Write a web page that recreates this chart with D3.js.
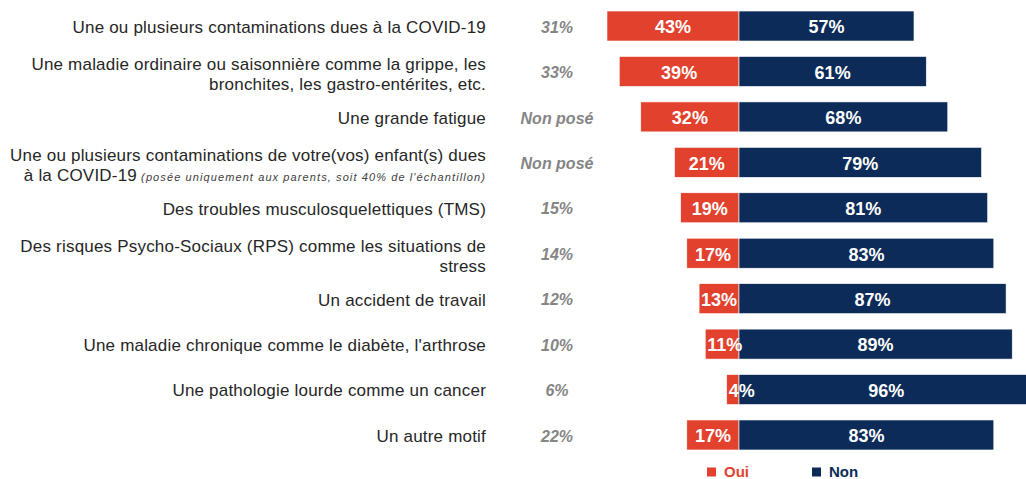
<!DOCTYPE html>
<html>
<head>
<meta charset="utf-8">
<script src="https://cdn.jsdelivr.net/npm/d3@7"></script>
<style>
  body { margin: 0; background: #fff; }
  svg { display: block; font-family: "Liberation Sans", Arial, sans-serif; }
  .row-label { fill: #262626; font-size: 17px; letter-spacing: 0.2px; }
  .row-note { fill: #404040; font-size: 11px; font-style: italic; letter-spacing: 1.1px; }
  .base-label { fill: #858585; font-size: 16px; font-style: italic; font-weight: bold; }
  .bar-label { fill: #fff; font-size: 18px; font-weight: bold; }
  .legend-label { font-size: 15px; font-weight: bold; }
</style>
</head>
<body>
<svg id="chart"></svg>
<script>
// Motifs (row labels, one entry per line)
const labelLines = [
  ['Une ou plusieurs  contaminations dues à la COVID-19'],
  ['Une maladie ordinaire ou saisonnière comme la grippe, les', 'bronchites, les gastro-entérites, etc.'],
  ['Une grande fatigue'],
  ['Une ou plusieurs  contaminations de votre(vos) enfant(s) dues', 'à la COVID-19'],
  ['Des troubles musculosquelettiques  (TMS)'],
  ['Des risques Psycho-Sociaux (RPS) comme les situations de', 'stress'],
  ['Un accident de travail'],
  ['Une maladie chronique comme le diabète, l\'arthrose'],
  ['Une pathologie lourde comme un cancer'],
  ['Un autre motif']
];
// small italic note appended to the last line of a label
const labelNotes = ['', '', '', '(posée uniquement aux parents, soit 40% de l\'échantillon)', '', '', '', '', '', ''];
const baseShares = ['31%', '33%', 'Non posé', 'Non posé', '15%', '14%', '12%', '10%', '6%', '22%'];
const ouiValues = [43, 39, 32, 21, 19, 17, 13, 11, 4, 17];
const nonValues = [57, 61, 68, 79, 81, 83, 87, 89, 96, 83];
const seriesKeys = ['Oui', 'Non'];
const seriesColors = ['#e2412e', '#0c2b58'];

class DivergingBars {

  constructor(_config) {
    this.config = {
      parentElement: _config.parentElement,
      containerWidth: _config.containerWidth || 1026,
      containerHeight: _config.containerHeight || 479,
      zeroX: _config.zeroX || 739,
      pxPerPoint: _config.pxPerPoint || 3.07,
      labelRight: _config.labelRight || 486,
      baseX: _config.baseX || 557,
      rowTop: _config.rowTop || 3.3,
      rowBottom: _config.rowBottom || 457.7,
      lineHeight: _config.lineHeight || 20,
      legendX: _config.legendX || [707, 812],
      legendY: _config.legendY || 472
    };
    this.data = labelLines.map((lines, i) => ({
      id: i,
      lines: lines,
      note: labelNotes[i],
      base: baseShares[i],
      Oui: ouiValues[i],
      Non: nonValues[i]
    }));
    this.initVis();
  }

  initVis() {
    let vis = this;

    vis.svg = d3.select(vis.config.parentElement)
        .attr('width', vis.config.containerWidth)
        .attr('height', vis.config.containerHeight);

    vis.xScale = d3.scaleLinear()
        .domain([-100, 100])
        .range([vis.config.zeroX - 100 * vis.config.pxPerPoint, vis.config.zeroX + 100 * vis.config.pxPerPoint]);

    vis.yScale = d3.scaleBand()
        .domain(vis.data.map(d => d.id))
        .range([vis.config.rowTop, vis.config.rowBottom])
        .paddingInner(0.34)
        .paddingOuter(0.17);

    vis.colorScale = d3.scaleOrdinal()
        .domain(seriesKeys)
        .range(seriesColors);

    vis.renderVis();
  }

  renderVis() {
    let vis = this;
    const cy = d => vis.yScale(d.id) + vis.yScale.bandwidth() / 2;

    // left hand labels, right aligned
    const labels = vis.svg.selectAll('.row-label')
        .data(vis.data)
        .join('text')
        .attr('class', 'row-label')
        .attr('text-anchor', 'end')
        .attr('y', d => cy(d) + 1 + (d.lines.length > 1 ? 2 : 0) - (d.lines.length - 1) * vis.config.lineHeight / 2)
        .attr('dy', '0.35em');

    labels.selectAll('tspan.line')
        .data(d => d.lines.map((l, i) => ({text: l, i: i, last: i === d.lines.length - 1, note: d.note})))
        .join('tspan')
        .attr('class', 'line')
        .attr('x', vis.config.labelRight)
        .attr('dy', d => d.i === 0 ? null : vis.config.lineHeight)
        .text(d => d.text)
        .each(function(d) {
          // the note continues the same text chunk, so the whole line ends at labelRight
          if (d.last && d.note) {
            d3.select(this.parentNode).append('tspan')
                .attr('class', 'row-note')
                .text(' ' + d.note);
          }
        });

    // base column
    vis.svg.selectAll('.base-label')
        .data(vis.data)
        .join('text')
        .attr('class', 'base-label')
        .attr('text-anchor', 'middle')
        .attr('x', vis.config.baseX)
        .attr('y', d => cy(d) + 1)
        .attr('dy', '0.35em')
        .text(d => d.base);

    // bars
    vis.segments = vis.data.map(d => ([
      {key: 'Oui', id: d.id, x0: -d.Oui, x1: 0, value: d.Oui},
      {key: 'Non', id: d.id, x0: 0, x1: d.Non, value: d.Non}
    ])).flat();

    vis.svg.selectAll('.bar')
        .data(vis.segments)
        .join('rect')
        .attr('class', 'bar')
        .attr('x', d => vis.xScale(d.x0))
        .attr('y', d => vis.yScale(d.id))
        .attr('width', d => vis.xScale(d.x1) - vis.xScale(d.x0))
        .attr('height', vis.yScale.bandwidth())
        .attr('fill', d => vis.colorScale(d.key))
        .attr('stroke', '#fff')
        .attr('stroke-width', 0.6);

    vis.svg.selectAll('.bar-label')
        .data(vis.segments)
        .join('text')
        .attr('class', 'bar-label')
        .attr('text-anchor', 'middle')
        .attr('y', d => cy(d) + 1)
        .attr('dy', '0.35em')
        .text(d => d.value + '%')
        .attr('x', function(d) {
          const mid = (vis.xScale(d.x0) + vis.xScale(d.x1)) / 2;
          const w = this.getComputedTextLength();
          // small segments: keep the label starting at the bar's left edge
          return Math.max(mid, vis.xScale(d.x0) + 2 + w / 2);
        });

    // legend
    const legend = vis.svg.selectAll('.legend-item')
        .data(seriesKeys)
        .join('g')
        .attr('class', 'legend-item')
        .attr('transform', (d, i) => `translate(${vis.config.legendX[i]},${vis.config.legendY})`);

    legend.append('rect')
        .attr('x', 0)
        .attr('y', -4.5)
        .attr('width', 9)
        .attr('height', 9)
        .attr('fill', d => vis.colorScale(d));

    legend.append('text')
        .attr('class', 'legend-label')
        .attr('x', 17)
        .attr('dy', '0.35em')
        .attr('fill', d => vis.colorScale(d))
        .text(d => d);
  }
}

new DivergingBars({parentElement: '#chart'});
</script>
</body>
</html>
